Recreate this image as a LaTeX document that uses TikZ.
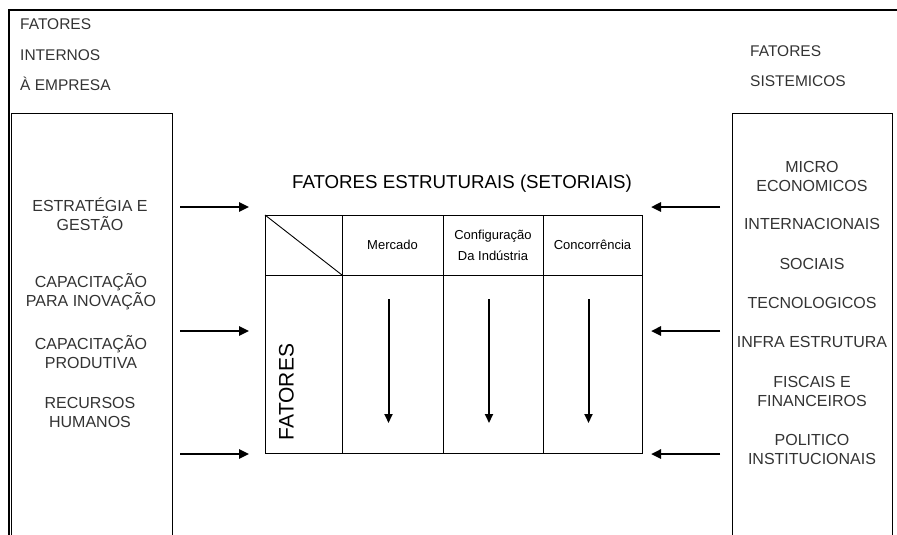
\documentclass[tikz,border=0pt]{standalone}
\usepackage{fontspec}
\setmainfont{Liberation Sans}
\usetikzlibrary{arrows.meta,positioning,calc}

\tikzset{
  toplbl/.style={text=black!80, font=\fontsize{15.5}{19}\selectfont, anchor=base west, inner sep=0pt},
  lbl/.style={text=black!80, font=\fontsize{16}{19}\selectfont, align=center, inner sep=0pt},
  bigbox/.style={draw, line width=0.9pt, anchor=north west, inner sep=0pt, outer sep=0pt, minimum height=440pt},
  cell/.style={draw, line width=0.9pt, inner sep=0pt, outer sep=0pt},
  hdr/.style={font=\fontsize{13}{21}\selectfont, align=center},
  flow/.style={-{Triangle[length=10pt,width=9pt]}, line width=2.4pt},
  down/.style={-{Triangle[length=9pt,width=8pt]}, line width=2pt},
}

\begin{document}
\begin{tikzpicture}[x=1pt,y=-1pt]
    \useasboundingbox[fill=white] (0,0) rectangle (897,535);

    % outer frame, only top and left edges show
    \draw[line width=2.2pt] (9,545) -- (9,10) -- (905,10);

    % heading labels
    \node[toplbl] (int1) at (20,30) {FATORES};
    \node[toplbl] (int2) at (20,60) {INTERNOS};
    \node[toplbl] (int3) at (20,90) {À EMPRESA};
    \node[toplbl] (sis1) at (750,57) {FATORES};
    \node[toplbl] (sis2) at (750,87) {SISTEMICOS};

    % side boxes
    \node[bigbox, minimum width=161pt] (intbox) at (11,113) {};
    \node[bigbox, minimum width=160pt] (sisbox) at (732,113) {};

    % internal factors
    \node[lbl] (est) at (90,214) {ESTRATÉGIA E\\GESTÃO};
    \node[lbl] (inov) at (91,292) {CAPACITAÇÃO\\PARA INOVAÇÃO};
    \node[lbl] (prod) at (91,352) {CAPACITAÇÃO\\PRODUTIVA};
    \node[lbl] (rh) at (90,412) {RECURSOS\\HUMANOS};

    % systemic factors
    \node[lbl] (micro) at (812,176) {MICRO\\ECONOMICOS};
    \node[lbl] (inter) at (812,224) {INTERNACIONAIS};
    \node[lbl] (soc) at (812,264) {SOCIAIS};
    \node[lbl] (tec) at (812,303) {TECNOLOGICOS};
    \node[lbl] (infra) at (812,342) {INFRA ESTRUTURA};
    \node[lbl] (fisc) at (812,391) {FISCAIS E\\FINANCEIROS};
    \node[lbl] (pol) at (812,449) {POLITICO\\INSTITUCIONAIS};

    % structural table
    \node[font=\fontsize{18.7}{18}\selectfont] (title) at (462,184) {FATORES ESTRUTURAIS (SETORIAIS)};
    \node[cell, anchor=north west, minimum width=77pt, minimum height=60pt] (h0) at (265,215) {};
    \node[cell, hdr, right=0pt of h0, minimum width=101pt, minimum height=60pt] (h1) {Mercado};
    \node[cell, hdr, right=0pt of h1, minimum width=100pt, minimum height=60pt] (h2) {Configuração\\Da Indústria};
    \node[cell, hdr, right=0pt of h2, minimum width=99pt, minimum height=60pt] (h3) {Concorrência};
    \draw[line width=0.9pt] (h0.north west) -- (h0.south east);
    \foreach \c/\w in {0/77,1/101,2/100,3/99}
        \node[cell, below=0pt of h\c, minimum width=\w pt, minimum height=178pt] (b\c) {};
    \node[rotate=90, font=\fontsize{21}{21}\selectfont] (fat) at ([xshift=-17pt,yshift=-28pt]b0.center) {FATORES};

    % arrows down the columns
    \foreach \c in {1,2,3}
        \draw[down] ([xshift=-4pt,yshift=-24pt]b\c.north) -- ([xshift=-4pt,yshift=30pt]b\c.south);

    % arrows into the table
    \foreach \y [count=\i] in {207,331,454} {
        \coordinate (li\i) at (180,\y);
        \coordinate (lo\i) at (249,\y);
        \coordinate (ri\i) at (720,\y);
        \coordinate (ro\i) at (651,\y);
        \draw[flow] (li\i) -- (lo\i);
        \draw[flow] (ri\i) -- (ro\i);
    }
\end{tikzpicture}
\end{document}
